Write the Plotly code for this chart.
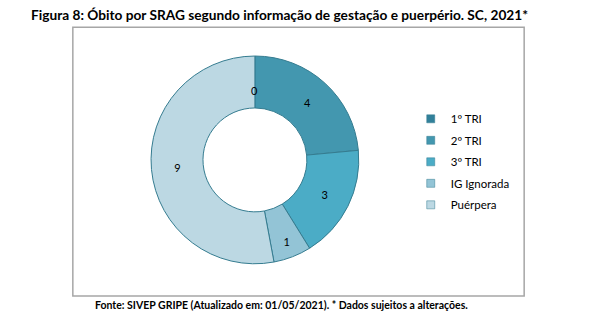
import math
import plotly.graph_objects as go

categories = ["1º TRI", "2º TRI", "3º TRI", "IG Ignorada", "Puérpera"]
values = [0, 4, 3, 1, 9]
colors = ["#31809A", "#4397AF", "#4BACC6", "#93C4D6", "#BCD8E3"]

title = "Figura 8: Óbito por SRAG segundo informação de gestação e puerpério. SC, 2021*"
footer = "Fonte: SIVEP GRIPE (Atualizado em: 01/05/2021). * Dados sujeitos a alterações."

W, H = 597, 327
dom_x = [0.253, 0.601]
dom_y = [0.193, 0.829]
hole = 0.5
FONT = "Lato, Open Sans, sans-serif"

fig = go.Figure()
fig.add_trace(go.Pie(
    labels=categories,
    values=values,
    sort=False,
    direction="clockwise",
    rotation=0,
    hole=hole,
    marker=dict(colors=colors, line=dict(color="#357C90", width=1)),
    textinfo="value",
    textposition="inside",
    insidetextorientation="horizontal",
    textfont=dict(family=FONT, size=11, color="#000000"),
    domain=dict(x=dom_x, y=dom_y),
    showlegend=False,
    hoverinfo="label+value",
))

# legend entries (one per category) so that spacing can be tuned
for i, (c, col) in enumerate(zip(categories, colors)):
    fig.add_trace(go.Scatter(
        x=[None], y=[None], mode="markers", name=c,
        legendgroup="g%d" % i,
        marker=dict(symbol="square", size=8, color=col,
                    line=dict(color="#357C90", width=0.5)),
        showlegend=True, hoverinfo="skip",
    ))

# labels for zero-valued slices (plotly omits them), placed from the data
total = sum(values)
cx_px = (dom_x[0] + dom_x[1]) / 2 * W
cy_px = (dom_y[0] + dom_y[1]) / 2 * H
R = min((dom_x[1] - dom_x[0]) * W, (dom_y[1] - dom_y[0]) * H) / 2
r_mid = R * (1 + hole) / 2
annotations = []
cum = 0
for v in values:
    if v == 0:
        theta = 2 * math.pi * (cum + v / 2) / total
        px = cx_px + r_mid * math.sin(theta)
        py = cy_px + r_mid * math.cos(theta)
        annotations.append(dict(text=str(v), xref="paper", yref="paper",
                                x=px / W, y=py / H, showarrow=False,
                                font=dict(family=FONT, size=11, color="#000000")))
    cum += v

annotations += [
    dict(text="<b>" + title + "</b>", xref="paper", yref="paper",
         x=0.469, y=0.955, xanchor="center", yanchor="middle",
         showarrow=False, font=dict(size=13.7, family=FONT)),
    dict(text="<b>" + footer + "</b>", xref="paper", yref="paper",
         x=0.472, y=0.067, xanchor="center", yanchor="middle",
         showarrow=False, font=dict(size=10.5, family=FONT)),
]

fig.update_layout(
    width=W,
    height=H,
    margin=dict(l=0, r=0, t=0, b=0),
    paper_bgcolor="white",
    plot_bgcolor="rgba(0,0,0,0)",
    font=dict(family=FONT, color="#000000"),
    xaxis=dict(visible=False),
    yaxis=dict(visible=False),
    legend=dict(
        x=0.688, y=0.681, xanchor="left", yanchor="top",
        font=dict(size=11.5, color="#000000"),
        bgcolor="rgba(0,0,0,0)",
        itemwidth=30,
        tracegroupgap=2.5,
        traceorder="grouped",
    ),
    shapes=[dict(
        type="rect", xref="paper", yref="paper",
        x0=0.122, x1=0.878, y0=0.095, y1=0.917,
        line=dict(color="#A6A6A6", width=1.5),
    )],
    annotations=annotations,
)

fig.write_html("out.html")
